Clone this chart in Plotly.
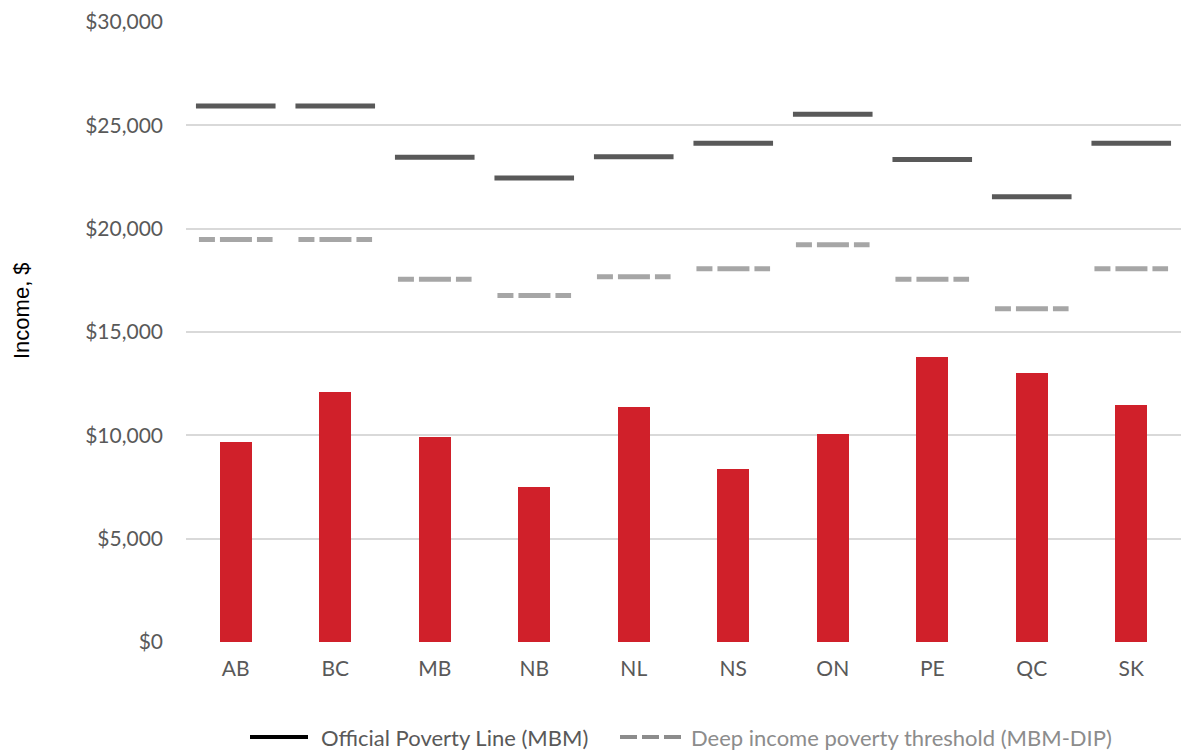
import plotly.graph_objects as go

provinces = ["AB", "BC", "MB", "NB", "NL", "NS", "ON", "PE", "QC", "SK"]
income = [9660, 12110, 9920, 7480, 11350, 8370, 10050, 13790, 13010, 11470]
mbm_line = [25930, 25930, 23460, 22450, 23480, 24130, 25540, 23350, 21540, 24130]
mbm_dip = [19480, 19480, 17550, 16770, 17670, 18060, 19220, 17550, 16130, 18060]
y_ticks = [0, 5000, 10000, 15000, 20000, 25000, 30000]
y_tick_text = ["$0", "$5,000", "$10,000", "$15,000", "$20,000", "$25,000", "$30,000"]

RED = "#D0202A"
DARK = "#595959"
LIGHT = "#A6A6A6"
FONT = "Lato"

W, H = 1181, 751
ML, MR, MT, MB = 186, 0, 22, 109
PW, PH = W - ML - MR, H - MT - MB

xpos = list(range(len(provinces)))


def segments(values, half):
    xs, ys = [], []
    for i, v in zip(xpos, values):
        xs += [i - half, i + half, None]
        ys += [v, v, None]
    return xs, ys


fig = go.Figure()
fig.add_trace(go.Bar(x=xpos, y=income, width=0.32, marker=dict(color=RED, line=dict(width=0)),
                     showlegend=False, name="Income"))

sx, sy = segments(mbm_line, 0.40)
fig.add_trace(go.Scatter(x=sx, y=sy, mode="lines", line=dict(color=DARK, width=5),
                         showlegend=False, name="Official Poverty Line (MBM)"))
dx, dy = segments(mbm_dip, 0.37)
fig.add_trace(go.Scatter(x=dx, y=dy, mode="lines",
                         line=dict(color=LIGHT, width=5, dash="16px,5px,32px,5px"),
                         showlegend=False, name="Deep income poverty threshold (MBM-DIP)"))


def px_x(p):
    return (p - ML) / PW


def px_y(p):
    return (H - MB - p) / PH


# legend drawn below the plot
ly = px_y(737)
fig.add_shape(type="line", xref="paper", yref="paper", x0=px_x(250), x1=px_x(308), y0=ly, y1=ly,
              line=dict(color="#000000", width=4))
fig.add_annotation(xref="paper", yref="paper", x=px_x(319), y=ly, xanchor="left", yanchor="middle",
                   text="Official Poverty Line (MBM)", showarrow=False,
                   font=dict(family=FONT, size=22, color=DARK))
fig.add_shape(type="line", xref="paper", yref="paper", x0=px_x(620), x1=px_x(682), y0=ly, y1=ly,
              line=dict(color="#8C8C8C", width=4, dash="17px,5px,17px,5px"))
fig.add_annotation(xref="paper", yref="paper", x=px_x(689), y=ly, xanchor="left", yanchor="middle",
                   text="Deep income poverty threshold (MBM-DIP)", showarrow=False,
                   font=dict(family=FONT, size=22, color="#8C8C8C"))

fig.add_annotation(xref="paper", yref="paper", x=px_x(21), y=px_y(311), xanchor="center", yanchor="middle",
                   text="Income, $", textangle=-90, showarrow=False,
                   font=dict(family="Liberation Sans", size=22, color="#000000"))

fig.update_layout(
    width=W, height=H,
    margin=dict(l=ML, r=MR, t=MT, b=MB),
    plot_bgcolor="white", paper_bgcolor="white",
    bargap=0,
    xaxis=dict(range=[-0.5, 9.5], tickvals=xpos, ticktext=provinces, showgrid=False,
               zeroline=False, showline=False, ticks="", ticklabelstandoff=12,
               tickfont=dict(family=FONT, size=21, color=DARK)),
    yaxis=dict(range=[0, 30000], tickvals=y_ticks, ticktext=y_tick_text,
               showgrid=True, gridcolor="#D9D9D9", gridwidth=2, zeroline=False,
               showline=False, ticks="", ticklabelstandoff=22,
               tickfont=dict(family=FONT, size=21, color=DARK)),
)

fig.write_html("out.html")
